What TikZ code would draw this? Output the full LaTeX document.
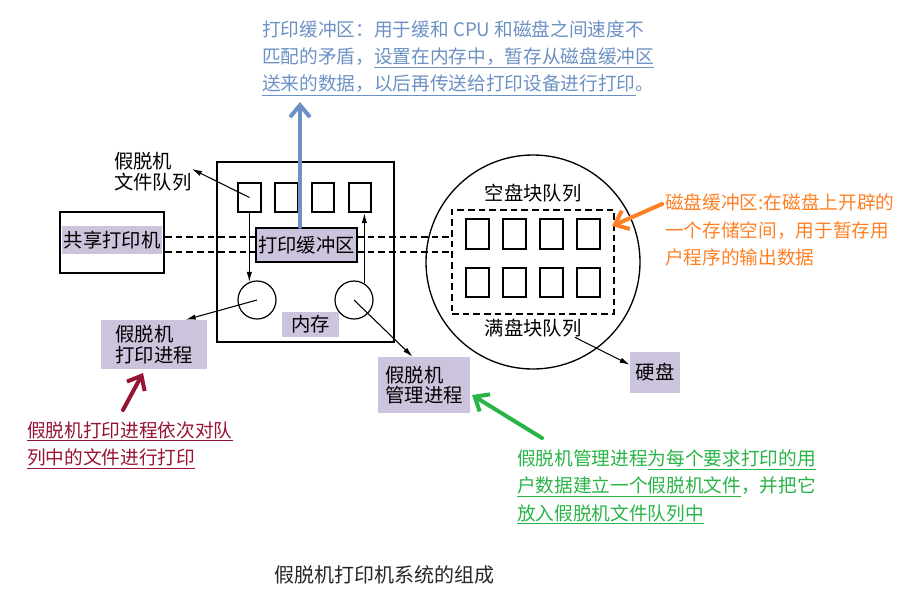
\documentclass[tikz,border=0pt]{standalone}
\usepackage{fontspec}
\setmainfont{Noto Sans CJK SC}
\usetikzlibrary{fit, arrows.meta}

\definecolor{tagfill}{RGB}{204,195,221}
\definecolor{noteblue}{RGB}{108,145,196}
\definecolor{noteorange}{RGB}{255,128,36}
\definecolor{notered}{RGB}{150,20,50}
\definecolor{notegreen}{RGB}{40,180,70}

\newcommand\labfont{\fontsize{14.5}{15.5}\selectfont}
\newcommand\notefont{\fontsize{14}{20.5}\selectfont}
\newcommand\undl[1]{$\underline{\hbox{#1}}$}

\tikzset{
	slot/.style = {draw, line width=1.3pt, minimum width=17pt, minimum height=22pt, inner sep=0pt},
	tag/.style  = {fill=tagfill, inner sep=0pt, align=left, font=\labfont},
	lab/.style  = {inner sep=0pt, align=left, font=\labfont},
	proc/.style = {draw, circle, line width=0.9pt, minimum size=28.5pt, inner sep=0pt},
	dline/.style = {dashed, dash pattern=on 5pt off 3pt, line width=0.8pt},
	link/.style = {-{Latex[length=7.5pt,width=4pt]}, line width=0.8pt},
	note/.style = {align=left, inner sep=0pt, font=\notefont},
	pen/.style  = {line width=3pt, line cap=round, line join=round,
		-{Straight Barb[length=9pt,width=15pt,line width=3pt]}}
}

\begin{document}
\begin{tikzpicture}[x=0.75pt, y=-0.75pt]
	\useasboundingbox (0,0) rectangle (924,600);
	% memory
		\node[draw, line width=1.1pt, inner sep=0pt, fit={(217,162) (394,342)}] (mem) {};
		\foreach \i/\x in {1/249.5, 2/286.5, 3/323, 4/360}
			\node[slot] (q\i) at (\x, 197.5) {};
		\node[proc] (c1) at (257, 300) {};
		\node[proc] (c2) at (354, 300) {};
		\node[tag, minimum width=42.75pt, minimum height=18.75pt] (memlab) at (310.5, 324.5) {内存};
	% printer
		\node[tag, minimum width=75pt, minimum height=21pt] (prtlab) at (112, 240) {共享打印机};
		\node[draw, line width=1.3pt, inner sep=0pt, fit={(60,212) (164,273)}] (prt) {};
	% disk
		\node[draw, circle, line width=1pt, minimum size=160.5pt, inner sep=0pt] (disk) at (533, 262) {};
		\node[draw, dline, inner sep=0pt, fit={(452,210) (614,314)}] (dbuf) {};
		\foreach \i/\x in {1/477.5, 2/514.5, 3/551.5, 4/588.5} {
			\node[slot] (e\i) at (\x, 234) {};
			\node[slot] (f\i) at (\x, 282.5) {};
		}
		\node[lab] (emptyq) at (533, 193) {空盘块队列};
		\node[lab] (fullq) at (533, 328) {满盘块队列};
		\node[tag, minimum width=37.5pt, minimum height=30.75pt] (hd) at (655, 372.5) {硬盘};
	% the two dashed lines
		\coordinate (l1) at (0, 237);
		\coordinate (l2) at (0, 252);
		\draw[dline] (prt.east |- l1) -- (dbuf.west |- l1);
		\draw[dline] (prt.east |- l2) -- (dbuf.west |- l2);
		\node[draw, fill=tagfill, line width=1.6pt, inner sep=0pt, minimum width=75.75pt, minimum height=25.5pt,
			font=\labfont] (buf) at (306.5, 245) {打印缓冲区};
	% labels
		\node[lab, anchor=west] (qlab) at (114, 172) {假脱机\\文件队列};
		\node[tag, minimum width=79.5pt, minimum height=36.75pt] (ptag) at (154, 344.5) {假脱机\\打印进程};
		\node[tag, minimum width=69pt, minimum height=42pt] (mtag) at (424, 385) {假脱机\\管理进程};
	% black arrows
		\draw[link] (q1.center) -- (qlab.east |- 0,169);
		\draw[link] (c1.113 |- q1.south) -- (c1.113);
		\draw[link] (c2.58) -- (c2.58 |- q4.south);
		\draw[link] (c1.center) -- (ptag.38);
		\draw[link] (c2.center) -- (mtag.112);
		\draw[link] ([xshift=-5pt]fullq.south east) -- (hd.163);
	% notes
		\node[note, text=noteblue, anchor=west] (bnote) at (262, 58)
			{打印缓冲区：用于缓和 CPU 和磁盘之间速度不\\
			 匹配的矛盾，\undl{设置在内存中，暂存从磁盘缓冲区}\\
			 \undl{送来的数据，以后再传送给打印设备进行打印}。};
		\node[note, text=noteorange, anchor=west] (onote) at (665, 230)
			{磁盘缓冲区:在磁盘上开辟的\\一个存储空间，用于暂存用\\户程序的输出数据};
		\node[note, text=notered, anchor=west] (rnote) at (27, 445)
			{\undl{假脱机打印进程依次对队}\\\undl{列中的文件进行打印}};
		\node[note, text=notegreen, anchor=west] (gnote) at (517, 487)
			{假脱机管理进程\undl{为每个要求打印的用}\\
			 \undl{户数据建立一个假脱机文件}，并把它\\
			 \undl{放入假脱机文件队列中}};
	% coloured arrows
		\coordinate (btip) at (300, 102);
		\coordinate (otail) at (662, 204);
		\coordinate (otip) at (612, 226);
		\coordinate (rtail) at (123, 410);
		\coordinate (rtip) at (143, 373);
		\coordinate (gtail) at (542, 438);
		\coordinate (gtip) at (472, 395);
		\draw[pen, noteblue] (buf.north -| btip) -- (btip);
		\draw[pen, noteorange] (otail) -- (otip);
		\draw[pen, notered] (rtail) -- (rtip);
		\draw[pen, notegreen] (gtail) -- (gtip);
	% caption
		\node[font=\fontsize{15}{16}\selectfont, text=black!85] (cap) at (384, 575) {假脱机打印机系统的组成};
\end{tikzpicture}
\end{document}
